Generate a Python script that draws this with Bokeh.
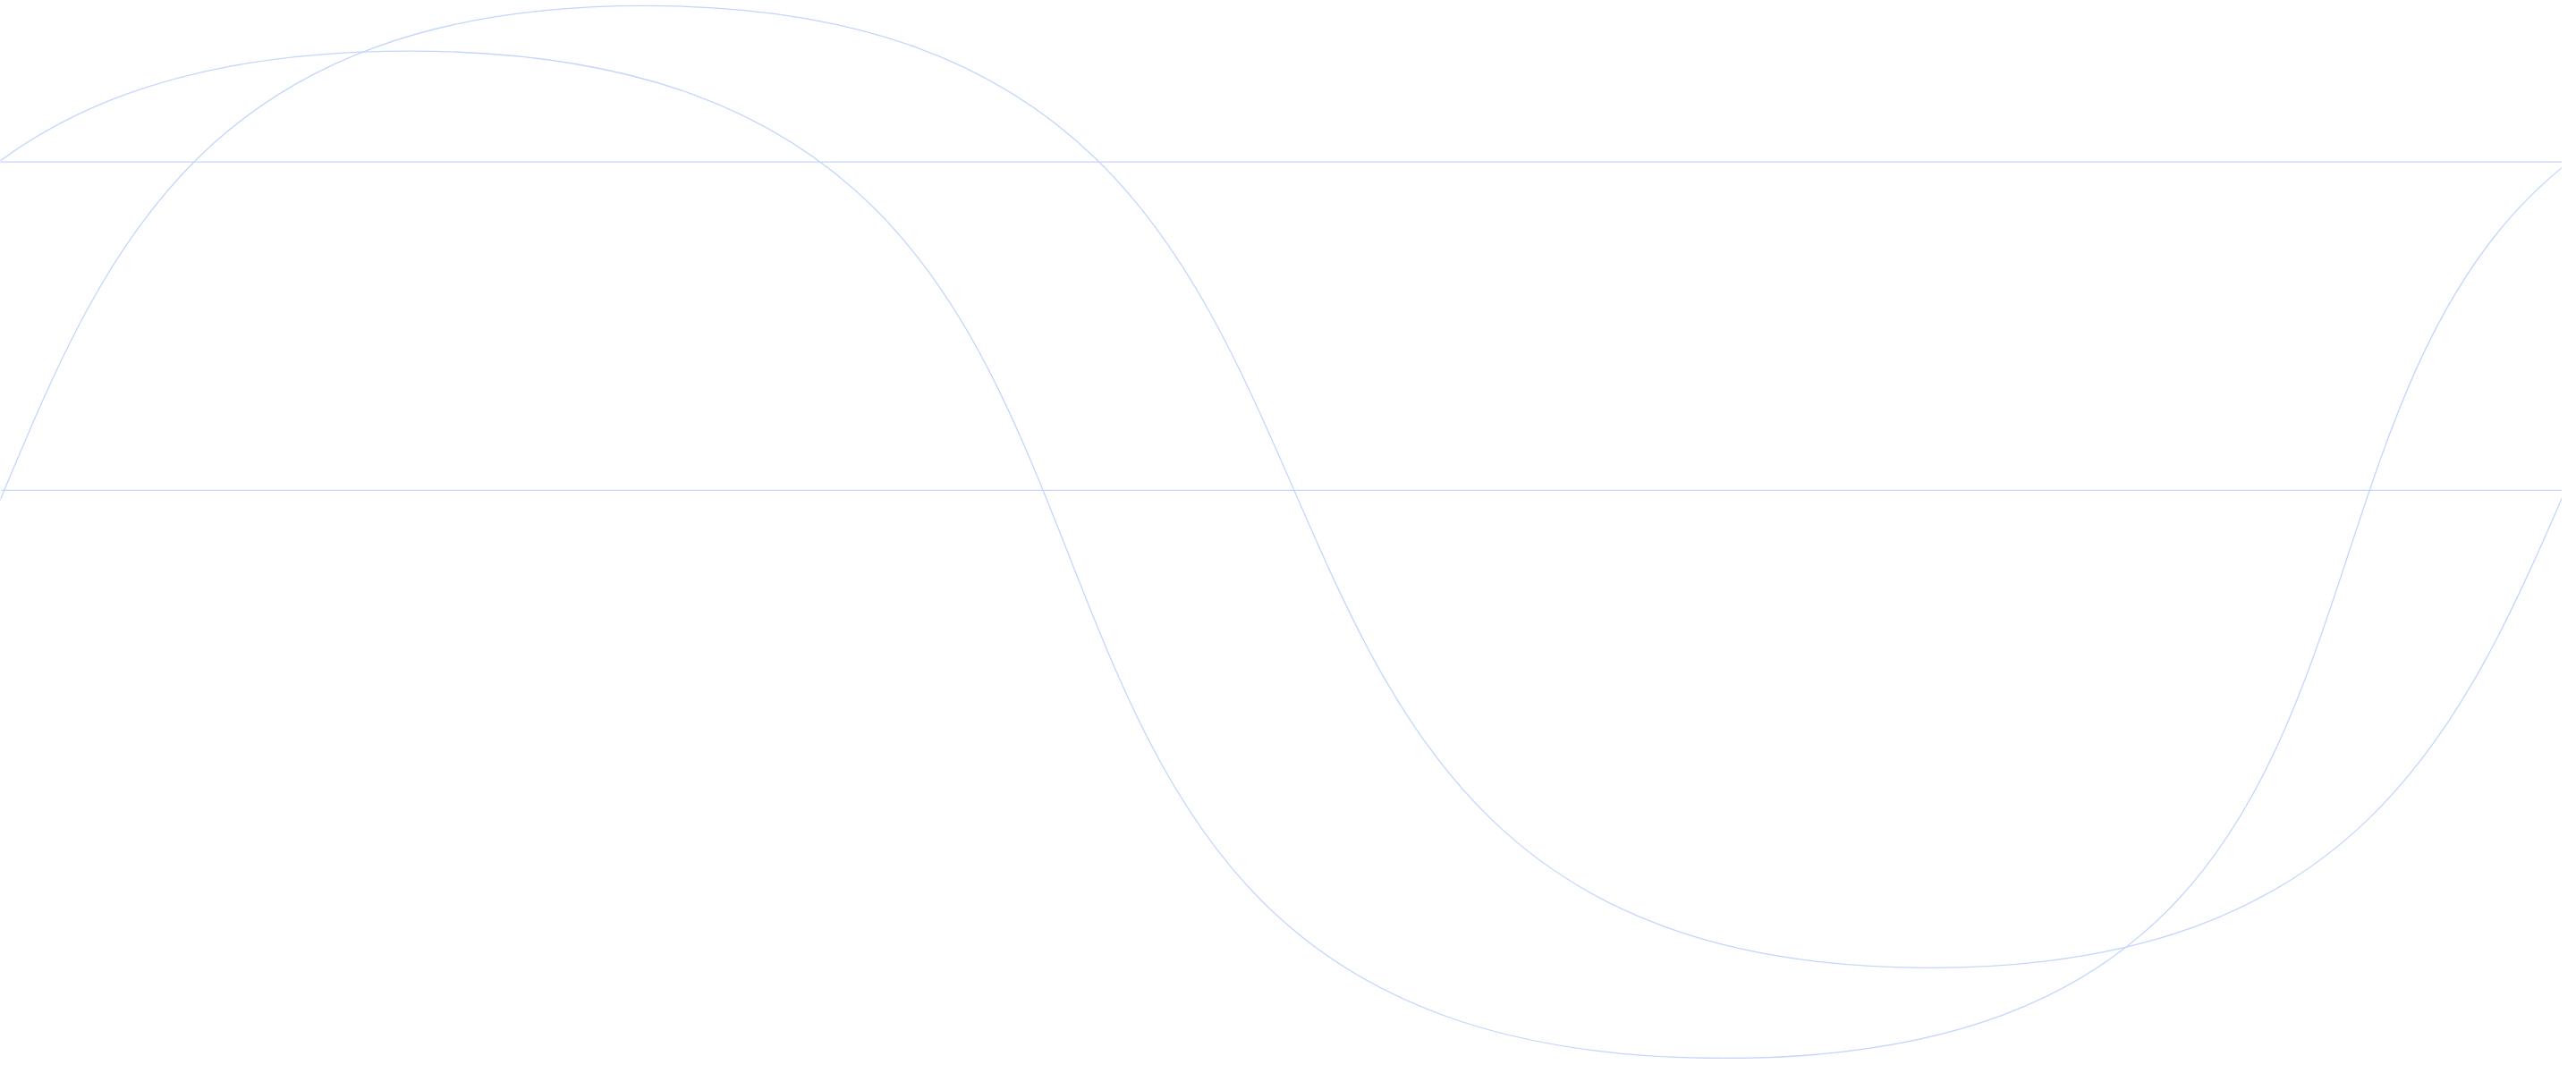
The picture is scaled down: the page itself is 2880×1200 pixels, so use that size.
import numpy as np

from bokeh.plotting import figure
from bokeh.models import Range1d
from bokeh.embed import file_html
from bokeh.resources import INLINE

# Each wave is a run of cubic curves between its crests and troughs (screen px,
# y grows downward); handles are horizontal, with the length read per anchor.
wave_a_x = [-1005, 465, 1935, 3326]
wave_a_y = [1199, 64, 1199, 64]
wave_a_handle = [1030, 1030, 1024, 1018]

wave_b_x = [-690, 729, 2165, 3601]
wave_b_y = [1097, 13, 1097, 13]
wave_b_handle = [960, 975, 960, 975]

# flat edges that close each shape
edge_a_y = 189
edge_a_x = [0, 2880]
edge_b_y = 559
edge_b_x = [9, 2880]

stroke = "#c3d6fb"


def wave_segments(xs, ys, hs):
    x = np.asarray(xs, dtype=float)
    y = np.asarray(ys, dtype=float)
    h = np.asarray(hs, dtype=float)
    return dict(x0=x[:-1], y0=y[:-1], x1=x[1:], y1=y[1:],
                cx0=x[:-1] + h[:-1], cy0=y[:-1],
                cx1=x[1:] - h[1:], cy1=y[1:])


p = figure(width=2864, height=1184, output_backend="svg", toolbar_location=None,
           x_range=Range1d(8, 2872), y_range=Range1d(1200, 7),
           min_border=0, background_fill_color="white", border_fill_color="white")
p.axis.visible = False
p.grid.visible = False
p.outline_line_color = None

p.bezier(line_color=stroke, line_width=1.3,
         **wave_segments(wave_a_x, wave_a_y, wave_a_handle))
p.bezier(line_color=stroke, line_width=1.3,
         **wave_segments(wave_b_x, wave_b_y, wave_b_handle))

p.line(edge_a_x, [edge_a_y] * 2, line_color=stroke, line_width=1.3)
p.line(edge_b_x, [edge_b_y] * 2, line_color=stroke, line_width=1.3)

open("out.html", "w").write(file_html(p, INLINE))
